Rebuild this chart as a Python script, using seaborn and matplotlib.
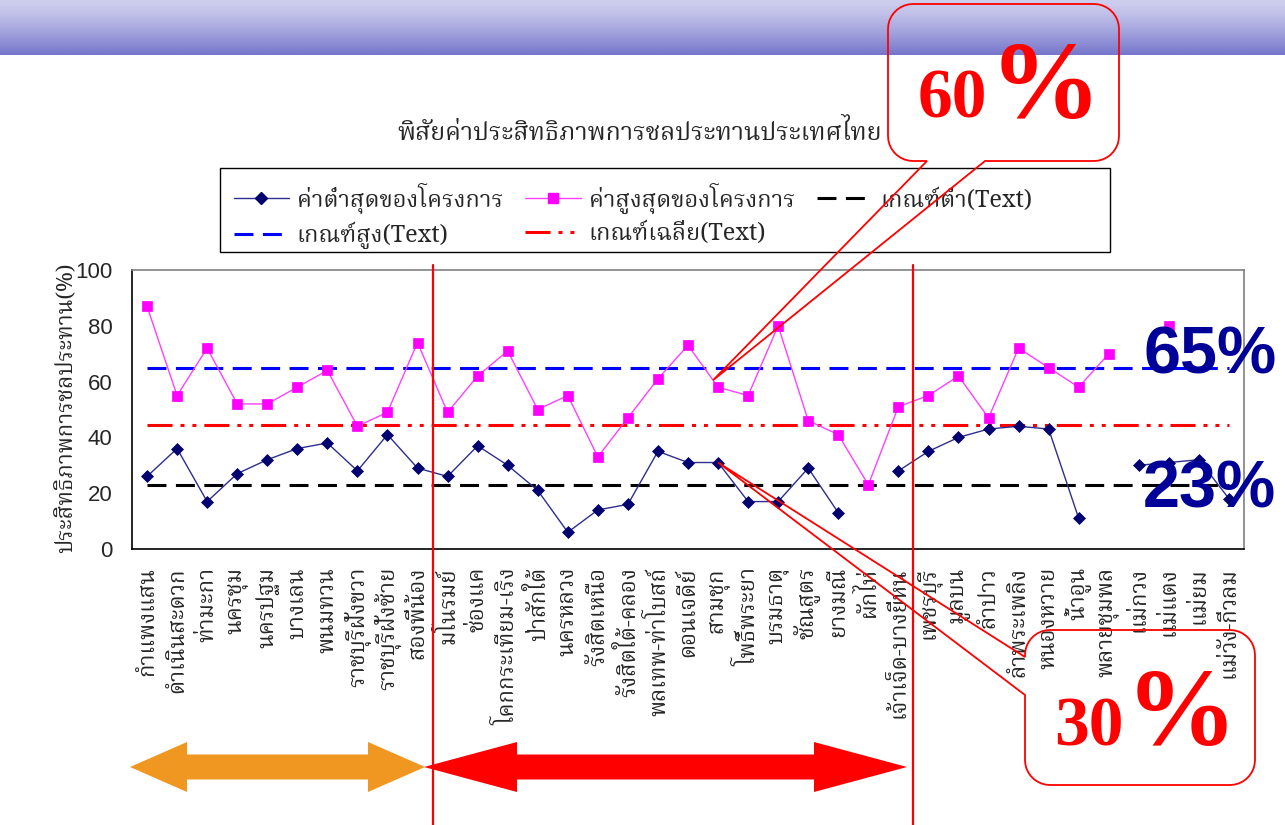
import numpy as np
import pandas as pd
import matplotlib
matplotlib.use("Agg")
import matplotlib.pyplot as plt
from matplotlib import font_manager
from matplotlib.ft2font import FT2Font
from matplotlib.lines import Line2D
from matplotlib.patches import Polygon, PathPatch, Rectangle
from matplotlib.path import Path
import seaborn as sns

# ---------------------------------------------------------------- data
projects = [
    "กำแพงแสน", "ดำเนินสะดวก", "ท่ามะกา", "นครชุม", "นครปฐม", "บางเลน",
    "พนมทวน", "ราชบุรีฝั่งขวา", "ราชบุรีฝั่งซ้าย", "สองพี่น้อง",
    "มโนรมย์", "ช่องแค", "โคกกระเทียม-เริง", "ป่าสักใต้", "นครหลวง",
    "รังสิตเหนือ", "รังสิตใต้-คลอง", "พลเทพ-ท่าโบสถ์", "ดอนเจดีย์", "สามชุก",
    "โพธิ์พระยา", "บรมธาตุ", "ชัณสูตร", "ยางมณี", "ผักไห่", "เจ้าเจ็ด-บางยี่หน",
    "เพชรบุรี", "มูลบน", "ลำปาว", "ลำพระเพลิง", "หนองหวาย", "น้ำอูน",
    "พลายชุมพล", "แม่กวง", "แม่แตง", "แม่ยม", "แม่วัง-กิ่วลม",
]
nan = np.nan
min_eff = [26, 36, 17, 27, 32, 36, 38, 28, 41, 29,
           26, 37, 30, 21, 6, 14, 16, 35, 31, 31,
           17, 17, 29, 13, nan, 28,
           35, 40, 43, 44, 43, 11, nan, 30, 31, 32, 18]
max_eff = [87, 55, 72, 52, 52, 58, 64, 44, 49, 74,
           49, 62, 71, 50, 55, 33, 47, 61, 73, 58,
           55, 80, 46, 41, 23, 51,
           55, 62, 47, 72, 65, 58, 70, nan, 80, nan, nan]
low_threshold = 23
high_threshold = 65
avg_threshold = 44.5
region_sizes = [10, 16, 11]
y_ticks = [0, 20, 40, 60, 80, 100]

title = "พิสัยค่าประสิทธิภาพการชลประทานประเทศไทย"
y_label = "ประสิทธิภาพการชลประทาน(%)"
lbl_min = "ค่าต่ำสุดของโครงการ"
lbl_max = "ค่าสูงสุดของโครงการ"
lbl_low = "เกณฑ์ต่ำ(Text)"
lbl_high = "เกณฑ์สูง(Text)"
lbl_avg = "เกณฑ์เฉลี่ย(Text)"
callout_upper = ("60", "%")
callout_lower = ("30", "%")
tag_high = "65%"
tag_low = "23%"


# ---------------------------------------------------------------- fonts
def thai_family():
    preferred = ["Norasi", "Kinnari", "Noto Serif Thai", "FreeSerif",
                 "Noto Sans Thai", "Garuda", "Loma", "Laksaman"]
    found = {}
    for entry in font_manager.fontManager.ttflist:
        if entry.name in found:
            continue
        try:
            cmap = FT2Font(entry.fname).get_charmap()
        except Exception:
            continue
        if 0x0E01 in cmap:
            found[entry.name] = entry.fname
    for name in preferred:
        if name in found:
            return name
    if found:
        return sorted(found)[0]
    return "DejaVu Sans"


sns.set_style("white")
THAI = [thai_family(), "Liberation Serif", "DejaVu Sans"]
plt.rcParams["font.family"] = THAI

# ---------------------------------------------------------------- figure
W, H = 1285, 825
fig = plt.figure(figsize=(W / 100, H / 100), dpi=100)
fig.patch.set_facecolor("white")


def fx(px):
    return px / W


def fy(py):
    return 1 - py / H


# banner across the top
hdr = fig.add_axes([0, fy(55), 1, 55 / H])
c_top = np.array([206, 206, 238]) / 255
c_bot = np.array([118, 118, 204]) / 255
t = np.linspace(0, 1, 55) ** 1.3
grad = c_top[None, :] * (1 - t[:, None]) + c_bot[None, :] * t[:, None]
grad = np.repeat(grad[:, None, :], 8, axis=1)
hdr.imshow(grad, aspect="auto", interpolation="bilinear")
hdr.set_axis_off()

# main plotting area
ax = fig.add_axes([fx(132), fy(549), (1244 - 132) / W, (549 - 270) / H])
n = len(projects)
positions = np.arange(n)


def to_segments(values):
    rows, seg, gap = [], 0, True
    for i, v in enumerate(values):
        if np.isnan(v):
            gap = True
            continue
        if gap:
            seg += 1
        gap = False
        rows.append((i, v, seg))
    return pd.DataFrame(rows, columns=["pos", "value", "seg"])


dash_plain = (0, (6.2, 3.1))
dash_avg = (0, (8.2, 2.6, 1.3, 2.6, 1.3, 2.6))
ref_lw = 2.2

ref_df = pd.DataFrame({"pos": positions,
                       "low": low_threshold,
                       "high": high_threshold,
                       "avg": avg_threshold})
sns.lineplot(data=ref_df, x="pos", y="low", color="black", linewidth=ref_lw,
             linestyle=dash_plain, ax=ax, zorder=2)
sns.lineplot(data=ref_df, x="pos", y="high", color="#0000FF", linewidth=ref_lw,
             linestyle=dash_plain, ax=ax, zorder=2)
sns.lineplot(data=ref_df, x="pos", y="avg", color="#FF0000", linewidth=ref_lw,
             linestyle=dash_avg, ax=ax, zorder=2)

MIN_LINE, MIN_MARK = "#2E2E8F", "#000070"
MAX_LINE, MAX_MARK = "#FF40FF", "#FF00FF"

sns.lineplot(data=to_segments(min_eff), x="pos", y="value", units="seg",
             estimator=None, color=MIN_LINE, linewidth=1.0, marker="D",
             markersize=6, markerfacecolor=MIN_MARK, markeredgecolor=MIN_MARK,
             markeredgewidth=0.5, ax=ax, zorder=3, legend=False)
sns.lineplot(data=to_segments(max_eff), x="pos", y="value", units="seg",
             estimator=None, color=MAX_LINE, linewidth=1.0, marker="s",
             markersize=6.5, markerfacecolor=MAX_MARK, markeredgecolor=MAX_MARK,
             markeredgewidth=0.5, ax=ax, zorder=3, legend=False)

ax.set_xlim(-0.5, n - 0.5)
ax.set_ylim(0, 100)
ax.set_xlabel("")
ax.set_ylabel("")
ax.set_xticks(positions)
ax.set_xticklabels(projects, rotation=90, fontsize=16, family=THAI)
ax.set_xticks(np.arange(n + 1) - 0.5, minor=True)
ax.tick_params(axis="x", which="major", length=0, pad=13)
ax.tick_params(axis="x", which="minor", length=8, width=1, color="black",
               direction="out")
ax.set_yticks(y_ticks)
ax.set_yticklabels([str(v) for v in y_ticks], fontsize=16,
                   family="Liberation Sans")
ax.tick_params(axis="y", length=7, width=1, color="black", direction="out",
               pad=7)
for side in ["left", "bottom"]:
    ax.spines[side].set_color("black")
    ax.spines[side].set_linewidth(1.2)
for side in ["top", "right"]:
    ax.spines[side].set_color("#808080")
    ax.spines[side].set_linewidth(1.2)

# region separators running down through the labels
ax_h = 549 - 270
for b in np.cumsum(region_sizes)[:-1] - 0.5:
    ax.axvline(b, ymin=-(825 - 549) / ax_h, ymax=1 + 5 / ax_h, color="#FF0000",
               linewidth=1.6, clip_on=False, zorder=5)

# titles
fig.text(fx(640), fy(133), title, ha="center", va="center", fontsize=18,
         family=THAI)
fig.text(fx(66), fy(408), y_label, ha="center", va="center", rotation=90,
         fontsize=16, family=THAI)

# legend: entries laid out in three columns inside a wider frame
handles = [
    Line2D([], [], color=MIN_LINE, lw=1, marker="D", ms=6,
           mfc=MIN_MARK, mec=MIN_MARK),
    Line2D([], [], color="#0000FF", lw=ref_lw, linestyle=dash_plain),
    Line2D([], [], color=MAX_LINE, lw=1, marker="s", ms=6.5,
           mfc=MAX_MARK, mec=MAX_MARK),
    Line2D([], [], color="#FF0000", lw=ref_lw, linestyle=dash_avg),
    Line2D([], [], color="black", lw=ref_lw, linestyle=dash_plain),
]
labels = [lbl_min, lbl_high, lbl_max, lbl_avg, lbl_low]
fig.add_artist(Rectangle((fx(220), fy(252)), (1110 - 220) / W, 84 / H,
                         transform=fig.transFigure, facecolor="white",
                         edgecolor="black", linewidth=1.0, zorder=1))
leg = fig.legend(handles, labels, ncol=3, loc="upper left",
                 bbox_to_anchor=(fx(217), fy(166)),
                 bbox_transform=fig.transFigure, frameon=False,
                 handlelength=2.33, handletextpad=0.35, columnspacing=0.95,
                 labelspacing=0.35, borderpad=0.2,
                 prop={"family": THAI, "size": 17})
leg.set_zorder(2)

# big threshold tags on the right
fig.text(fx(1143), fy(373), tag_high, fontsize=48, fontweight="bold",
         color="#000099", family="Liberation Sans", ha="left", va="baseline",
         zorder=6)
fig.text(fx(1143), fy(508), tag_low, fontsize=48, fontweight="bold",
         color="#000099", family="Liberation Sans", ha="left", va="baseline",
         zorder=6)


# callout boxes
def arc(cx, cy, r, a0, a1, k=10):
    a = np.radians(np.linspace(a0, a1, k))
    return list(zip(cx + r * np.cos(a), cy + r * np.sin(a)))


def callout(x0, y0, x1, y1, r, side, a, b, tip):
    pts = arc(x0 + r, y0 + r, r, 180, 270)
    pts += arc(x1 - r, y0 + r, r, -90, 0)
    pts += arc(x1 - r, y1 - r, r, 0, 90)
    if side == "bottom":
        pts += [(b, y1), tip, (a, y1)]
        pts += arc(x0 + r, y1 - r, r, 90, 180)
    else:
        pts += arc(x0 + r, y1 - r, r, 90, 180)
        pts += [(x0, b), tip, (x0, a)]
    pts.append(pts[0])
    verts = [(fx(px), fy(py)) for px, py in pts]
    fig.add_artist(PathPatch(Path(verts), transform=fig.transFigure,
                             fill=False, edgecolor="#FF0000", linewidth=1.3,
                             zorder=6))


def data_px(i, v):
    dx, dy = ax.transData.transform((i, v))
    return dx, H - dy


tx, ty = data_px(19, max_eff[19])
callout(888, 4, 1119, 161, 25, "bottom", 927, 985, (tx - 5, ty - 7))
tx, ty = data_px(19, min_eff[19])
callout(1025, 630, 1255, 785, 25, "left", 657, 695, (tx, ty))

for (num, pct), (nx, px_, base) in [
        (callout_upper, (918, 990, 118)),
        (callout_lower, (1054, 1126, 745))]:
    fig.text(fx(nx), fy(base), num, fontsize=50, fontweight="bold",
             color="#FF0000", family="Liberation Serif", ha="left",
             va="baseline", zorder=7)
    fig.text(fx(px_), fy(base), pct, fontsize=80, fontweight="bold",
             color="#FF0000", family="Liberation Serif", ha="left",
             va="baseline", zorder=7)


# double-headed region arrows under the labels
def double_arrow(x_left, x_right, head, yc, half_shaft, half_head, color):
    pts = [(x_left, yc), (x_left + head, yc - half_head),
           (x_left + head, yc - half_shaft), (x_right - head, yc - half_shaft),
           (x_right - head, yc - half_head), (x_right, yc),
           (x_right - head, yc + half_head), (x_right - head, yc + half_shaft),
           (x_left + head, yc + half_shaft), (x_left + head, yc + half_head)]
    fig.add_artist(Polygon([(fx(px), fy(py)) for px, py in pts], closed=True,
                           transform=fig.transFigure, facecolor=color,
                           edgecolor="none", zorder=4))


double_arrow(130, 425, 57, 767, 12.5, 25, "#EF9720")
double_arrow(424, 907, 93, 767, 12.5, 25, "#FF0000")

fig.savefig("out.png", dpi=100, facecolor="white")
